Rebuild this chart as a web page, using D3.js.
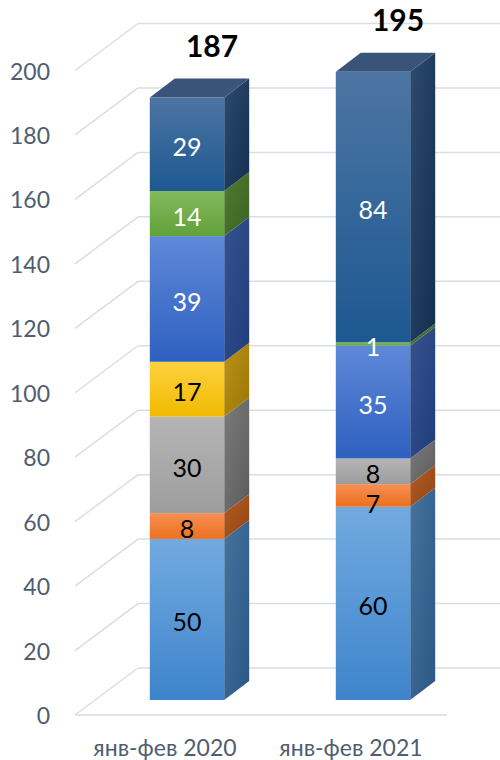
<!DOCTYPE html>
<html>
<head>
<meta charset="utf-8">
<script src="https://cdn.jsdelivr.net/npm/d3@7"></script>
<style>
  html, body { margin: 0; padding: 0; background: #fff; }
  svg { display: block; font-family: Lato, "Liberation Sans", sans-serif; }
</style>
</head>
<body>
<svg id="chart" width="500" height="760"></svg>
<script>
// Period categories and stacked series values (bottom to top)
const categories = ["янв-фев 2020", "янв-фев 2021"];
const series1 = [50, 60];
const series2 = [8, 7];
const series3 = [30, 8];
const series4 = [17, 0];
const series5 = [39, 35];
const series6 = [14, 1];
const series7 = [29, 84];
const yTicks = [0, 20, 40, 60, 80, 100, 120, 140, 160, 180, 200];

const seriesValues = [series1, series2, series3, series4, series5, series6, series7];
const keys = seriesValues.map((_, i) => "s" + (i + 1));
const rows = categories.map((c, j) => {
  const r = { category: c };
  keys.forEach((k, i) => { r[k] = seriesValues[i][j]; });
  return r;
});
const totals = categories.map((_, j) => d3.sum(seriesValues, s => s[j]));

// Face colours per series: front gradient (top, bottom), side gradient (top, bottom), label colour
const palette = [
  { front: ["#72aae0", "#3e84cb"], side: ["#46729e", "#2a5784"], label: "#000" },
  { front: ["#f78f52", "#ec711f"], side: ["#b65c22", "#8f4515"], label: "#000" },
  { front: ["#b5b5b5", "#9d9d9d"], side: ["#7b7b7b", "#5c5c5c"], label: "#000" },
  { front: ["#ffd23f", "#f0ba00"], side: ["#bb921c", "#9a7600"], label: "#000" },
  { front: ["#5f88d8", "#2e60c0"], side: ["#36528e", "#203d7c"], label: "#fff" },
  { front: ["#82ba5c", "#62a13a"], side: ["#507c32", "#3c6223"], label: "#fff" },
  { front: ["#4c75a3", "#1d5891"], side: ["#2d4b70", "#122e50"], label: "#fff" }
];
const topFaceColor = "#3a5479";

const svg = d3.select("#chart");
const defs = svg.append("defs");
palette.forEach((p, i) => {
  const gf = defs.append("linearGradient").attr("id", "front" + i)
    .attr("x1", 0).attr("y1", 0).attr("x2", 0).attr("y2", 1);
  gf.append("stop").attr("offset", "0%").attr("stop-color", p.front[0]);
  gf.append("stop").attr("offset", "100%").attr("stop-color", p.front[1]);
  const gs = defs.append("linearGradient").attr("id", "side" + i)
    .attr("x1", 0).attr("y1", 0).attr("x2", 1).attr("y2", 1);
  gs.append("stop").attr("offset", "0%").attr("stop-color", p.side[0]);
  gs.append("stop").attr("offset", "100%").attr("stop-color", p.side[1]);
});

// 3D geometry: wall depth and bar depth offsets
const wall = { dx: 63, dy: -47 };
const barDepth = { dx: 25, dy: -19 };
const backLeft = 138;
const labelGap = 30; // minimum vertical spacing between stacked value labels

// Scales
const yBack = d3.scaleLinear().domain([0, 200]).range([668, 23.5]);
const yBar = d3.scaleLinear().domain([0, 200]).range([700, 55.7]);
const x = d3.scaleBand().domain(categories).range([94, 466])
  .paddingInner(0.6).paddingOuter(0.3);

// Gridlines: back wall horizontals and left-wall diagonals
const grid = svg.append("g").attr("stroke", "#d9dde4").attr("stroke-width", 1.5).attr("fill", "none");
grid.selectAll("line.back").data(yTicks).join("line")
  .attr("class", "back")
  .attr("x1", backLeft).attr("x2", 500)
  .attr("y1", d => yBack(d)).attr("y2", d => yBack(d));
grid.selectAll("line.side").data(yTicks).join("line")
  .attr("class", "side")
  .attr("x1", backLeft - wall.dx).attr("y1", d => yBack(d) - wall.dy)
  .attr("x2", backLeft).attr("y2", d => yBack(d));
// floor front edge
grid.append("line")
  .attr("x1", backLeft - wall.dx).attr("y1", yBack(0) - wall.dy)
  .attr("x2", 447).attr("y2", yBack(0) - wall.dy);

// Value axis labels
svg.append("g").selectAll("text").data(yTicks).join("text")
  .attr("x", 50).attr("y", d => yBack(d) - wall.dy)
  .attr("text-anchor", "end").attr("dominant-baseline", "central")
  .attr("font-size", 23).attr("fill", "#4f5d70")
  .text(d => d);

// Stacked 3D bars
const stacked = d3.stack().keys(keys)(rows);
const bw = x.bandwidth();
const barsG = svg.append("g");

categories.forEach((cat, j) => {
  const x0 = x(cat), x1 = x0 + bw;
  const g = barsG.append("g");
  stacked.forEach((layer, i) => {
    const [v0, v1] = layer[j];
    if (v1 - v0 <= 0) return;
    const yt = yBar(v1), yb = yBar(v0);
    // side face
    g.append("path")
      .attr("d", `M${x1},${yt}L${x1 + barDepth.dx},${yt + barDepth.dy}L${x1 + barDepth.dx},${yb + barDepth.dy}L${x1},${yb}Z`)
      .attr("fill", `url(#side${i})`);
    // front face
    g.append("rect")
      .attr("x", x0).attr("y", yt).attr("width", bw).attr("height", yb - yt)
      .attr("fill", `url(#front${i})`);
  });
  // top face of the stack
  const yTop = yBar(totals[j]);
  g.append("path")
    .attr("d", `M${x0},${yTop}L${x0 + barDepth.dx},${yTop + barDepth.dy}L${x1 + barDepth.dx},${yTop + barDepth.dy}L${x1},${yTop}Z`)
    .attr("fill", topFaceColor);

  // segment value labels, placed top-down and nudged apart when crowded
  const labels = stacked
    .map((layer, i) => ({ i, v0: layer[j][0], v1: layer[j][1] }))
    .filter(d => d.v1 - d.v0 > 0)
    .map(d => ({ ...d, y: (yBar(d.v0) + yBar(d.v1)) / 2 + 2 }))
    .reverse();
  for (let k = 1; k < labels.length; k++) {
    if (labels[k].y - labels[k - 1].y < labelGap) labels[k].y = labels[k - 1].y + labelGap;
  }
  labels.forEach(d => {
    g.append("text")
      .attr("x", x0 + bw / 2)
      .attr("y", d.y)
      .attr("text-anchor", "middle").attr("dominant-baseline", "central")
      .attr("font-size", 25).attr("fill", palette[d.i].label)
      .text(d.v1 - d.v0);
  });

  // total above the bar
  g.append("text")
    .attr("x", x0 + bw / 2 + barDepth.dx)
    .attr("y", yTop - 41)
    .attr("text-anchor", "middle")
    .attr("font-size", 30).attr("font-weight", "bold").attr("fill", "#000")
    .text(totals[j]);
});

// Category labels
svg.append("g").selectAll("text").data(categories).join("text")
  .attr("x", d => x(d) + bw / 2 - 22)
  .attr("y", 756)
  .attr("text-anchor", "middle")
  .attr("font-size", 23).attr("fill", "#4f5d70")
  .text(d => d);
</script>
</body>
</html>
